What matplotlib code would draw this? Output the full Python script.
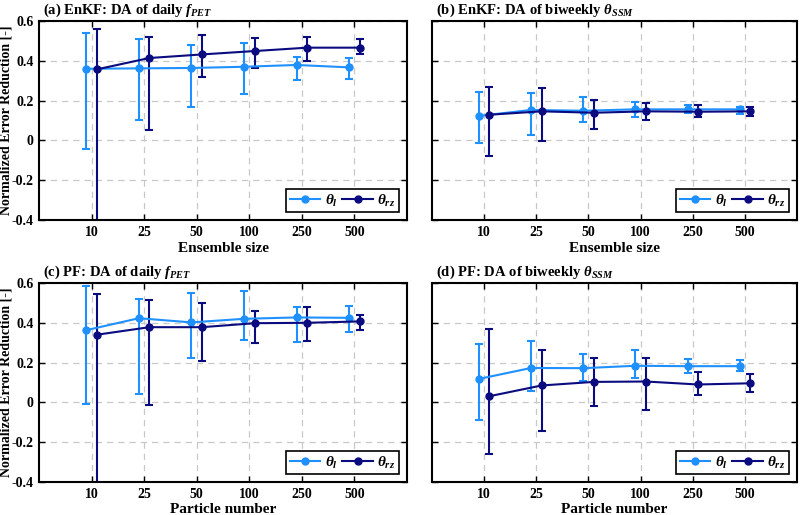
import numpy as np
import matplotlib
matplotlib.use("Agg")
import matplotlib.pyplot as plt
from matplotlib.lines import Line2D

plt.rcParams['font.family'] = ['Liberation Serif', 'DejaVu Serif']
plt.rcParams['font.weight'] = 'bold'
plt.rcParams['mathtext.fontset'] = 'custom'
plt.rcParams['mathtext.rm'] = 'Liberation Serif:bold'
plt.rcParams['mathtext.it'] = 'Liberation Serif:italic:bold'
plt.rcParams['mathtext.bf'] = 'Liberation Serif:bold'

sizes = ['10', '25', '50', '100', '250', '500']

# (a) EnKF, daily f_PET
a_l_mean = [0.360, 0.362, 0.364, 0.370, 0.379, 0.367]
a_l_hi = [0.541, 0.510, 0.481, 0.491, 0.421, 0.412]
a_l_lo = [-0.043, 0.103, 0.166, 0.231, 0.305, 0.309]
a_rz_mean = [0.357, 0.414, 0.432, 0.449, 0.466, 0.466]
a_rz_hi = [0.558, 0.520, 0.531, 0.515, 0.518, 0.508]
a_rz_lo = [-0.750, 0.052, 0.317, 0.363, 0.397, 0.432]

# (b) EnKF, biweekly theta_SSM
b_l_mean = [0.123, 0.153, 0.149, 0.156, 0.156, 0.156]
b_l_hi = [0.245, 0.238, 0.216, 0.195, 0.180, 0.170]
b_l_lo = [-0.013, 0.029, 0.092, 0.116, 0.136, 0.134]
b_rz_mean = [0.129, 0.146, 0.139, 0.146, 0.144, 0.146]
b_rz_hi = [0.267, 0.262, 0.201, 0.188, 0.180, 0.166]
b_rz_lo = [-0.080, -0.003, 0.056, 0.102, 0.119, 0.123]

# (c) PF, daily f_PET
c_l_mean = [0.363, 0.423, 0.402, 0.420, 0.427, 0.425]
c_l_hi = [0.585, 0.520, 0.548, 0.558, 0.480, 0.483]
c_l_lo = [-0.007, 0.040, 0.222, 0.315, 0.303, 0.355]
c_rz_mean = [0.340, 0.378, 0.378, 0.398, 0.400, 0.407]
c_rz_hi = [0.543, 0.513, 0.498, 0.460, 0.480, 0.440]
c_rz_lo = [-0.750, -0.013, 0.208, 0.297, 0.308, 0.363]

# (d) PF, biweekly theta_SSM
d_l_mean = [0.118, 0.173, 0.172, 0.184, 0.182, 0.182]
d_l_hi = [0.291, 0.311, 0.242, 0.262, 0.220, 0.212]
d_l_lo = [-0.088, 0.059, 0.106, 0.121, 0.150, 0.160]
d_rz_mean = [0.031, 0.085, 0.103, 0.105, 0.090, 0.096]
d_rz_hi = [0.371, 0.262, 0.222, 0.224, 0.152, 0.145]
d_rz_lo = [-0.260, -0.142, -0.018, -0.040, 0.038, 0.051]

light = '#1E90FF'
dark = '#0B0B80'

panels = [
    ('(a) EnKF: DA of daily $f_{PET}$', 'Ensemble size',
     (a_l_mean, a_l_lo, a_l_hi), (a_rz_mean, a_rz_lo, a_rz_hi),
     [39, 220, 368, 199], True, 2.5),
    ('(b) EnKF: DA of biweekly $\\theta_{SSM}$', 'Ensemble size',
     (b_l_mean, b_l_lo, b_l_hi), (b_rz_mean, b_rz_lo, b_rz_hi),
     [432, 220, 365, 199], False, 2.5),
    ('(c) PF: DA of daily $f_{PET}$', 'Particle number',
     (c_l_mean, c_l_lo, c_l_hi), (c_rz_mean, c_rz_lo, c_rz_hi),
     [39, 482, 368, 199], True, 1.5),
    ('(d) PF: DA of biweekly $\\theta_{SSM}$', 'Particle number',
     (d_l_mean, d_l_lo, d_l_hi), (d_rz_mean, d_rz_lo, d_rz_hi),
     [432, 482, 365, 199], False, 1.5),
]

W, H = 800, 515
fig = plt.figure(figsize=(8, 5.15), dpi=100)

x = np.arange(1, len(sizes) + 1)

for title, xlab, ser_l, ser_rz, (l, b, w, h), left, lpad in panels:
    ax = fig.add_axes([l / W, (H - b) / H, w / W, h / H])
    handles = []
    for (m, lo, hi), off, col, lab in [(ser_l, -0.1, light, '$\\theta_l$'),
                                       (ser_rz, 0.1, dark, '$\\theta_{rz}$')]:
        m = np.array(m)
        yerr = [m - np.array(lo), np.array(hi) - m]
        ax.errorbar(x + off, m, yerr=yerr, color=col, lw=1.5, marker='o',
                    ms=5, capsize=3, capthick=1.5, elinewidth=1.5)
        handles.append(Line2D([], [], color=col, lw=1.5, marker='o', ms=5, label=lab))
    ax.set_xlim(0, 7)
    ax.set_ylim(-0.4, 0.6)
    ax.set_xticks(x)
    ax.set_xticklabels(sizes)
    yt = [-0.4, -0.2, 0, 0.2, 0.4, 0.6]
    ax.set_yticks(yt)
    if left:
        ax.set_yticklabels(['-0.4', '-0.2', '0', '0.2', '0.4', '0.6'])
        ax.set_ylabel('Normalized Error Reduction [-]', fontsize=10, fontweight='bold')
        ax.yaxis.set_label_coords(-0.073, 0.5)
    else:
        ax.set_yticklabels([])
    ax.tick_params(direction='in', length=4, width=1, labelsize=10, top=True, right=True, pad=4)
    ax.grid(True, color='#c8c8c8', linestyle=(0, (5, 4)), lw=0.9)
    ax.set_axisbelow(True)
    for s in ax.spines.values():
        s.set_linewidth(1.5)
    ax.set_xlabel(xlab, fontsize=11, fontweight='bold', labelpad=lpad)
    ax.text(0.012, 1.035, title, transform=ax.transAxes, fontsize=10.5, fontweight='bold',
            ha='left', va='baseline')
    leg = ax.legend(handles=handles, loc='lower right', ncol=2, fontsize=11, fancybox=False,
                    framealpha=1, edgecolor='black', handlelength=2.0, columnspacing=0.3,
                    handletextpad=0.3, borderpad=0.25, borderaxespad=0.5)
    leg.get_frame().set_linewidth(1.2)

fig.savefig('out.png', dpi=100)
